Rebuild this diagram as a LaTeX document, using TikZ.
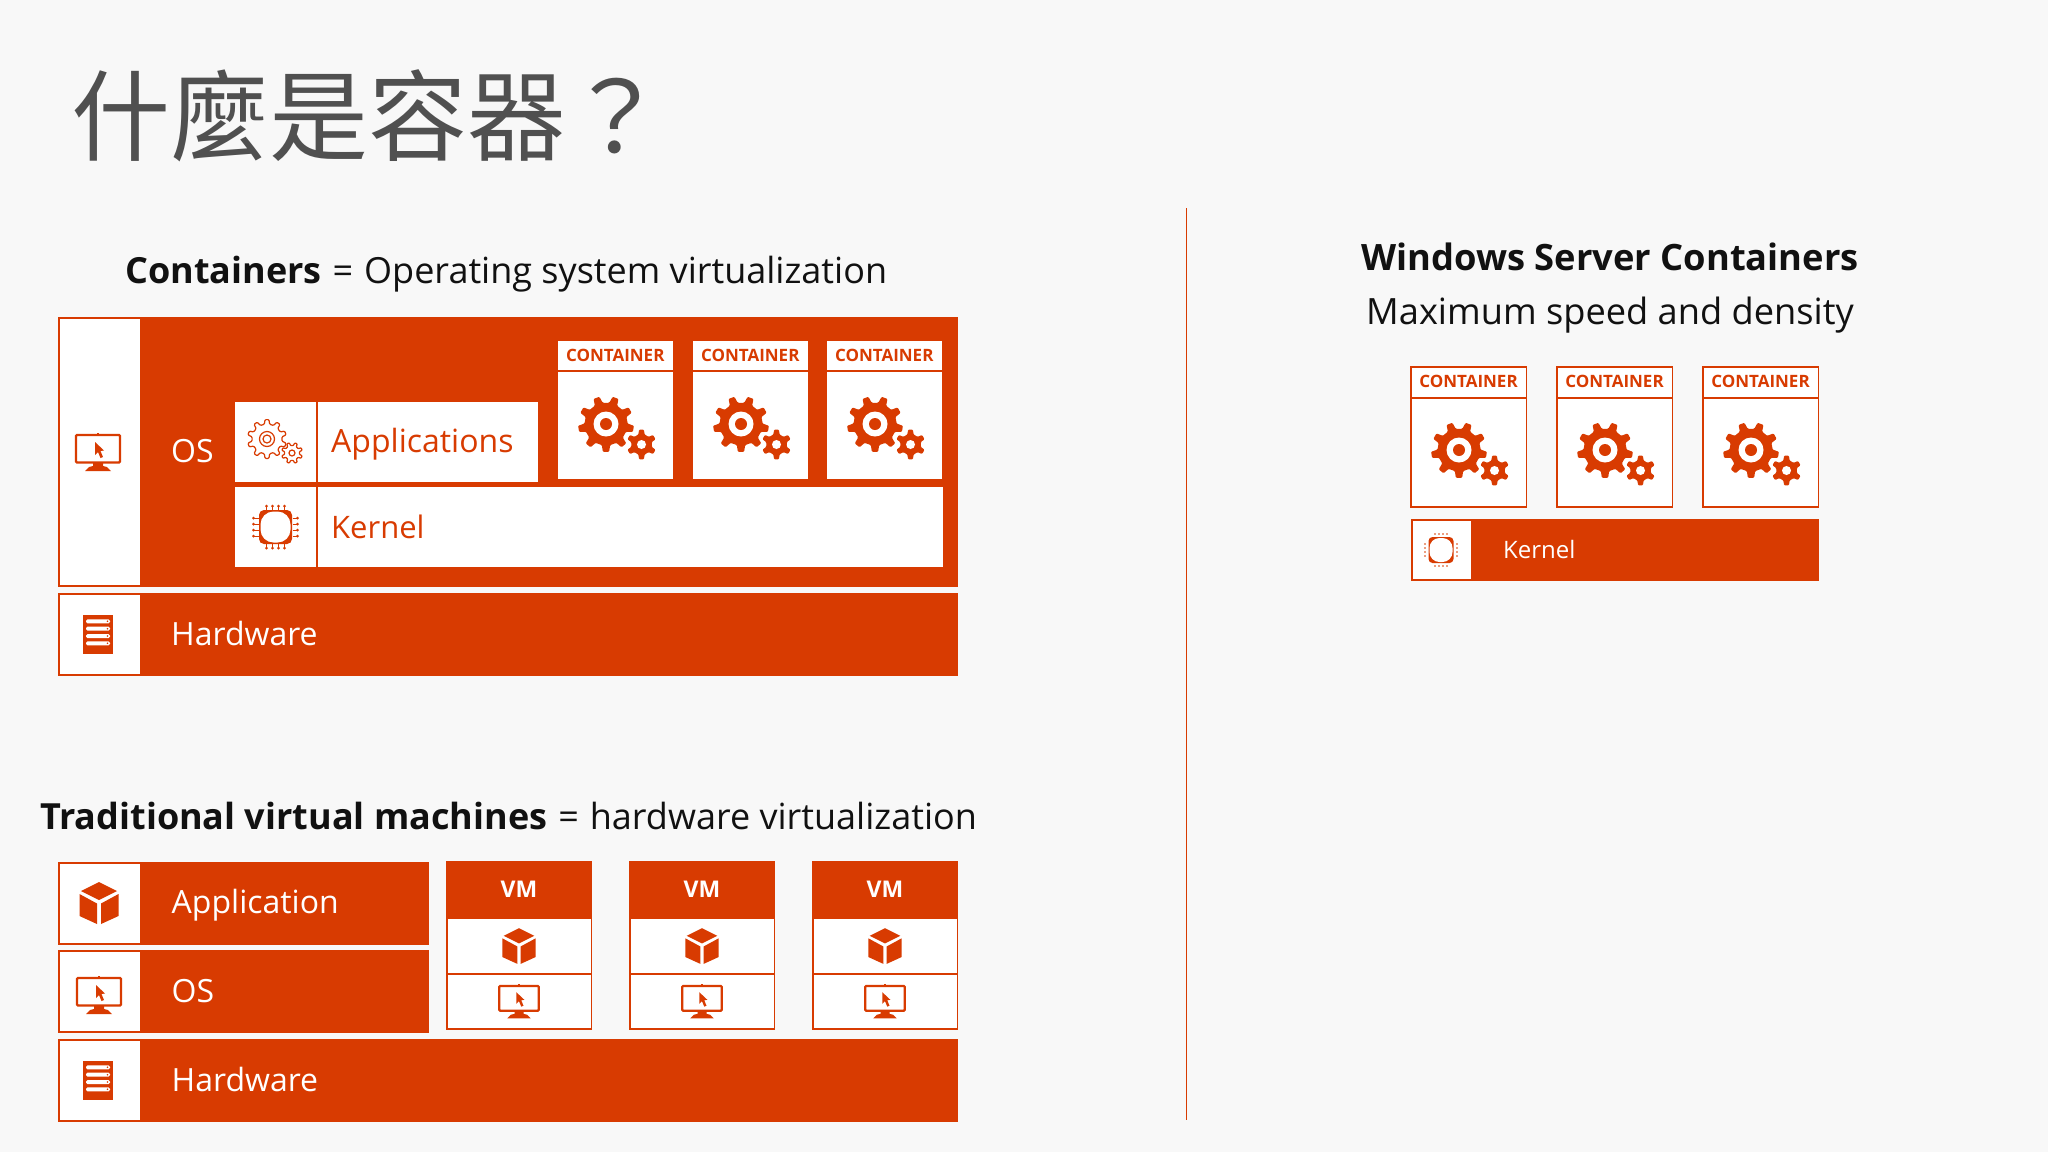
\documentclass[tikz,border=0pt]{standalone}
\usepackage{fontspec}
\setmainfont{Open Sans}
\newfontfamily\cjkfont{Noto Sans CJK TC}
\usepackage{xcolor}
\definecolor{bg}{HTML}{F8F8F8}
\definecolor{brand}{HTML}{D83B01}
\definecolor{ink}{HTML}{111111}
\definecolor{titlegray}{HTML}{505050}
\newcommand{\gearpath}[3]{(0:#3)
  \foreach \i in {1,...,#1}{
    -- ({(\i-0.78)*360/#1}:#3) -- ({(\i-0.66)*360/#1}:#2)
    -- ({(\i-0.34)*360/#1}:#2) -- ({(\i-0.22)*360/#1}:#3)
  } -- cycle}
\tikzset{
  plate/.style={fill=brand},
  inset/.style={fill=white},
  hair/.style={draw=brand, line width=1.2pt},
  head/.style={text=ink, font=\fontsize{36}{42}\selectfont, inner sep=0pt, anchor=base west},
  labw/.style={text=white, font=\fontsize{32}{38}\selectfont, inner sep=0pt, anchor=base west},
  labo/.style={text=brand, font=\fontsize{32}{38}\selectfont, inner sep=0pt, anchor=base west},
  tag/.style={text=brand, font=\bfseries\fontsize{17}{20}\selectfont, inner sep=0pt},
  gearpair/.pic={
    \fill[brand, rounded corners=1pt, rotate=10] \gearpath{9}{28}{21.5};
    \fill[white] (0,0) circle (12.5);
    \fill[brand] (0,0) circle (6);
    \begin{scope}[shift={(35.5,20.5)}]
      \fill[brand, rounded corners=1pt] \gearpath{6}{15}{10.5};
      \fill[white] (0,0) circle (4.5);
    \end{scope}
  },
  gearline/.pic={
    \draw[hair, rounded corners=1pt] \gearpath{10}{19.5}{15};
    \draw[hair] (0,0) circle (7.5) (0,0) circle (4);
    \begin{scope}[shift={(25,14)}]
      \draw[hair, rounded corners=0.7pt] \gearpath{8}{10.5}{7.5};
      \draw[hair] (0,0) circle (3);
    \end{scope}
  },
  monitor/.pic={
    \draw[brand, line width=2.2pt, rounded corners=1pt] (-22,1) rectangle (22,28.5);
    \fill[brand] (-5,29) -- (5,29) -- (5,32) -- (9,33) -- (13,37) -- (-13,37) -- (-9,33) -- (-5,32) -- cycle;
    \fill[brand] (-3,8) -- (-3,21) -- (0,18) -- (2.5,24) -- (5,23) -- (2.5,17) -- (6,16.5) -- cycle;
    \fill[brand] (-1,-1) rectangle (1,1);
  },
  rack/.pic={
    \fill[brand] (-15,-19.5) rectangle (15,19.5);
    \foreach \y in {-13.2,-5.8,1.5,8.8}{
      \fill[white, rounded corners=1.5pt] (-12,\y-2) rectangle (12,\y+2);
      \fill[brand] (9.5,\y) circle (0.9);
    }
  },
  cube/.pic={
    \fill[brand] (0,-21) -- (18,-12) -- (0,-3) -- (-18,-12) -- cycle;
    \fill[brand] (-19.5,-9) -- (-2,0.5) -- (-2,21) -- (-19.5,13) -- cycle;
    \fill[brand] (19.5,-9) -- (2,0.5) -- (2,21) -- (19.5,13) -- cycle;
  },
  chip/.pic={
    \fill[brand, rounded corners=5pt] (-16.5,-17) rectangle (16.5,17);
    \fill[white, rounded corners=13pt] (-15,-15.5) rectangle (15,15.5);
    \foreach \o in {-9,-3,3,9}{
      \draw[brand, line width=1pt] (\o,-17) -- (\o,-21) (\o,17) -- (\o,21) (-17,\o) -- (-22,\o) (17,\o) -- (22,\o);
      \fill[brand] (\o,-21) circle (1.5) (\o,21) circle (1.5) (-22,\o) circle (1.5) (22,\o) circle (1.5);
    }
  },
  chipdots/.pic={
    \fill[brand, rounded corners=4pt] (-12.5,-13) rectangle (12.5,13);
    \fill[white, rounded corners=10pt] (-11.5,-12) rectangle (11.5,12);
    \foreach \o in {-6,-2,2,6}{
      \fill[brand] (\o,-16) circle (0.9) (\o,16) circle (0.9) (-16,\o) circle (0.9) (16,\o) circle (0.9);
    }
  }
}
\begin{document}
\begin{tikzpicture}[x=1pt,y=-1pt]
  \fill[bg] (0,0) rectangle (2048,1152);
  \useasboundingbox (0,0) rectangle (2048,1152);

  \node[text=titlegray, font=\cjkfont\fontsize{99}{112}\selectfont, inner sep=0pt, anchor=base west] (title) at (71,153) {什麼是容器？};
  \draw[brand, line width=1.5pt] (1186.5,208) -- (1186.5,1120);

  % containers stack
  \node[head] (headc) at (125,283) {\textbf{Containers}\hspace{11pt}=\hspace{11pt}Operating system virtualization};
  \fill[plate] (58,317) rectangle (958,587);
  \fill[inset] (60,319) rectangle (140,585);
  \fill[plate] (58,593) rectangle (958,676);
  \fill[inset] (60,595) rectangle (140,674);
  \fill[inset] (235,402) rectangle (316,482);
  \fill[inset] (318,402) rectangle (538,482);
  \fill[inset] (235,487) rectangle (316,567);
  \fill[inset] (318,487) rectangle (943,567);
  \pic at (98,434) {monitor};
  \pic at (98,634.5) {rack};
  \pic at (267,439) {gearline};
  \pic at (275.5,527) {chip};
  \node[labw] (osc) at (171,462) {OS};
  \node[labo] (apps) at (331,452) {Applications};
  \node[labo, font=\fontsize{31}{38}\selectfont] (kernc) at (331,538) {Kernel};
  \node[labw] (hwc) at (171,645) {Hardware};
  \foreach \i/\x in {1/558,2/693,3/827}{
    \fill[inset] (\x,341) rectangle (\x+114.5,370);
    \fill[inset] (\x,372) rectangle (\x+114.5,479);
    \node[tag] (ctr\i) at (\x+57.25,355) {CONTAINER};
    \pic at (\x+48,424) {gearpair};
  }

  % virtual machines stack
  \node[head] (headv) at (40,829) {\textbf{Traditional virtual machines}\hspace{11pt}=\hspace{11pt}hardware virtualization};
  \foreach \t/\b in {862/945,950/1033}{
    \fill[plate] (58,\t) rectangle (428.5,\b);
    \fill[inset] (60,\t+2) rectangle (140,\b-2);
  }
  \fill[plate] (58,1039) rectangle (958,1122);
  \fill[inset] (60,1041) rectangle (140,1120);
  \pic at (99,903) {cube};
  \pic at (99,977) {monitor};
  \pic at (98,1080.5) {rack};
  \node[labw] (app) at (171.5,913) {Application};
  \node[labw] (osv) at (171.5,1002) {OS};
  \node[labw] (hwv) at (171.5,1091) {Hardware};
  \foreach \i/\x in {1/446,2/629,3/812}{
    \fill[plate] (\x,860.5) rectangle (\x+146,1029.5);
    \fill[inset] (\x+1.5,919) rectangle (\x+144.5,972.5);
    \fill[inset] (\x+1.5,974.5) rectangle (\x+144.5,1028);
    \node[text=white, font=\bfseries\fontsize{23}{27}\selectfont, inner sep=0pt] (vm\i) at (\x+73,889) {VM};
    \pic[scale=0.85] at (\x+73,946) {cube};
    \pic[scale=0.9] at (\x+73,985) {monitor};
  }

  % windows server containers
  \node[text=ink, font=\bfseries\fontsize{36.3}{42}\selectfont, inner sep=0pt, anchor=base] (headw) at (1610,270) {Windows Server Containers};
  \node[text=ink, font=\fontsize{36.2}{42}\selectfont, inner sep=0pt, anchor=base] (subw) at (1610,324) {Maximum speed and density};
  \foreach \i/\x in {1/1410,2/1556,3/1702}{
    \fill[plate] (\x,366) rectangle (\x+117,507.5);
    \fill[inset] (\x+1.5,367.5) rectangle (\x+115.5,396.5);
    \fill[inset] (\x+1.5,398.5) rectangle (\x+115.5,506);
    \node[tag] (win\i) at (\x+58.5,381) {CONTAINER};
    \pic at (\x+49,450) {gearpair};
  }
  \fill[plate] (1411,519) rectangle (1819,581);
  \fill[inset] (1413,521) rectangle (1471,579);
  \pic at (1441,550) {chipdots};
  \node[text=white, font=\fontsize{24}{29}\selectfont, inner sep=0pt, anchor=base west] (kernw) at (1503,558) {Kernel};
\end{tikzpicture}
\end{document}
